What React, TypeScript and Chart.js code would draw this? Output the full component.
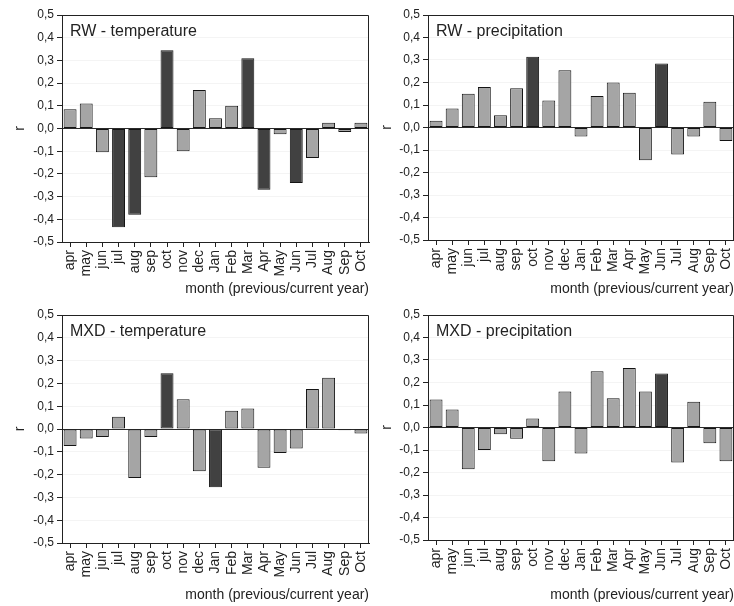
import React, { useEffect, useRef } from "react";
import { Chart, registerables } from "chart.js";

Chart.register(...registerables);

const months = ["apr", "may", "jun", "jul", "aug", "sep", "oct", "nov", "dec", "Jan", "Feb", "Mar", "Apr", "May", "Jun", "Jul", "Aug", "Sep", "Oct"];

const rwTemperature = [0.085, 0.11, -0.105, -0.435, -0.38, -0.215, 0.345, -0.1, 0.17, 0.045, 0.1, 0.31, -0.27, -0.025, -0.24, -0.13, 0.025, -0.015, 0.025];
const rwTemperatureSignificant = [false, false, false, true, true, false, true, false, false, false, false, true, true, false, true, false, false, false, false];

const rwPrecipitation = [0.03, 0.085, 0.15, 0.18, 0.055, 0.175, 0.315, 0.12, 0.255, -0.04, 0.14, 0.2, 0.155, -0.145, 0.285, -0.12, -0.04, 0.115, -0.06];
const rwPrecipitationSignificant = [false, false, false, false, false, false, true, false, false, false, false, false, false, false, true, false, false, false, false];

const mxdTemperature = [-0.075, -0.042, -0.035, 0.054, -0.215, -0.035, 0.245, 0.13, -0.185, -0.255, 0.08, 0.09, -0.17, -0.105, -0.085, 0.175, 0.225, -0.005, -0.02];
const mxdTemperatureSignificant = [false, false, false, false, false, false, true, false, false, true, false, false, false, false, false, false, false, false, false];

const mxdPrecipitation = [0.125, 0.08, -0.185, -0.1, -0.03, -0.05, 0.04, -0.15, 0.16, -0.115, 0.25, 0.13, 0.265, 0.16, 0.24, -0.155, 0.115, -0.07, -0.15];
const mxdPrecipitationSignificant = [false, false, false, false, false, false, false, false, false, false, false, false, false, false, true, false, false, false, false];

const yMin = -0.5;
const yMax = 0.5;
const yStep = 0.1;

const FONT = '"Liberation Sans", Arial, sans-serif';
const LIGHT = "#a5a5a5";
const DARK = "#414141";
const INK = "#222222";

type Area = { left: number; right: number; top: number; bottom: number };

type PanelProps = {
  title: string;
  values: number[];
  significant: boolean[];
  x: number;
  y: number;
  w: number;
  h: number;
  area: Area;
};

function Panel({ title, values, significant, x, y, w, h, area }: PanelProps) {
  const ref = useRef<HTMLCanvasElement | null>(null);

  useEffect(() => {
    if (!ref.current) return;
    const framePlugin = {
      id: "frameAndTitle",
      afterDraw(chart: any) {
        const { ctx, chartArea } = chart;
        const { left, right, top, bottom } = chartArea;
        ctx.save();
        ctx.strokeStyle = INK;
        ctx.lineWidth = 1;
        ctx.beginPath();
        ctx.moveTo(left, top + 0.5);
        ctx.lineTo(right - 0.5, top + 0.5);
        ctx.lineTo(right - 0.5, bottom);
        ctx.stroke();
        ctx.fillStyle = INK;
        ctx.font = "16px " + FONT;
        ctx.textAlign = "left";
        ctx.textBaseline = "alphabetic";
        ctx.fillText(title, left + 8, top + 21);
        ctx.restore();
      },
    };

    const chart = new Chart(ref.current, {
      type: "bar",
      data: {
        labels: months,
        datasets: [
          {
            data: values,
            backgroundColor: significant.map((s) => (s ? DARK : LIGHT)),
            borderColor: "#141414",
            borderWidth: 1,
            borderSkipped: false,
            barPercentage: 0.8,
            categoryPercentage: 1,
          },
        ],
      },
      options: {
        animation: false,
        responsive: false,
        maintainAspectRatio: false,
        layout: { padding: { left: 0, top: area.top, right: w - area.right, bottom: 0 } },
        plugins: { legend: { display: false }, tooltip: { enabled: false }, title: { display: false } },
        scales: {
          x: {
            offset: true,
            grid: { offset: false, drawOnChartArea: false, tickLength: 5, tickColor: INK },
            border: { display: true, color: INK, width: 1 },
            ticks: {
              autoSkip: false,
              maxRotation: 90,
              minRotation: 90,
              color: INK,
              padding: 3,
              font: { family: FONT, size: 14 },
            },
            title: {
              display: true,
              text: "month (previous/current year)",
              align: "end",
              color: INK,
              font: { family: FONT, size: 14 },
              padding: { top: 0, bottom: 2 },
            },
            afterFit(scale: any) {
              scale.height = h - area.bottom;
              scale.paddingLeft = 0;
              scale.paddingRight = 0;
            },
          },
          y: {
            min: yMin,
            max: yMax,
            ticks: {
              stepSize: yStep,
              color: INK,
              padding: 3,
              font: { family: FONT, size: 12 },
              callback: (v: any) => (Math.round(Number(v) * 10) / 10).toFixed(1).replace(".", ","),
            },
            grid: {
              drawOnChartArea: true,
              tickLength: 5,
              tickColor: INK,
              color: (c: any) => (c.tick && Math.abs(c.tick.value) < 1e-9 ? "#2a2a2a" : "rgba(0,0,0,0.045)"),
            },
            border: { display: true, color: INK, width: 1 },
            title: {
              display: true,
              text: "r",
              color: INK,
              font: { family: FONT, size: 14 },
              padding: { top: 12, bottom: 0 },
            },
            afterFit(scale: any) {
              scale.width = area.left;
              scale.paddingTop = 0;
              scale.paddingBottom = 0;
            },
          },
        },
      },
      plugins: [framePlugin],
    } as any);
    return () => chart.destroy();
  }, [title, values, significant, w, h, area]);

  return (
    <canvas
      ref={ref}
      width={w}
      height={h}
      style={{ position: "absolute", left: x, top: y, width: w, height: h }}
    />
  );
}

const A1: Area = { left: 62, right: 369, top: 15, bottom: 242 };
const A2: Area = { left: 61, right: 367, top: 15, bottom: 240 };
const A3: Area = { left: 62, right: 369, top: 15, bottom: 243 };
const A4: Area = { left: 61, right: 367, top: 15, bottom: 240 };

export default function App() {
  useEffect(() => {
    document.body.style.margin = "0";
  }, []);
  return (
    <div style={{ position: "relative", width: 734, height: 606, background: "#ffffff", overflow: "hidden" }}>
      <Panel title="RW - temperature" values={rwTemperature} significant={rwTemperatureSignificant} x={0} y={0} w={370} h={300} area={A1} />
      <Panel title="RW - precipitation" values={rwPrecipitation} significant={rwPrecipitationSignificant} x={367} y={0} w={367} h={300} area={A2} />
      <Panel title="MXD - temperature" values={mxdTemperature} significant={mxdTemperatureSignificant} x={0} y={300} w={370} h={306} area={A3} />
      <Panel title="MXD - precipitation" values={mxdPrecipitation} significant={mxdPrecipitationSignificant} x={367} y={300} w={367} h={306} area={A4} />
    </div>
  );
}
